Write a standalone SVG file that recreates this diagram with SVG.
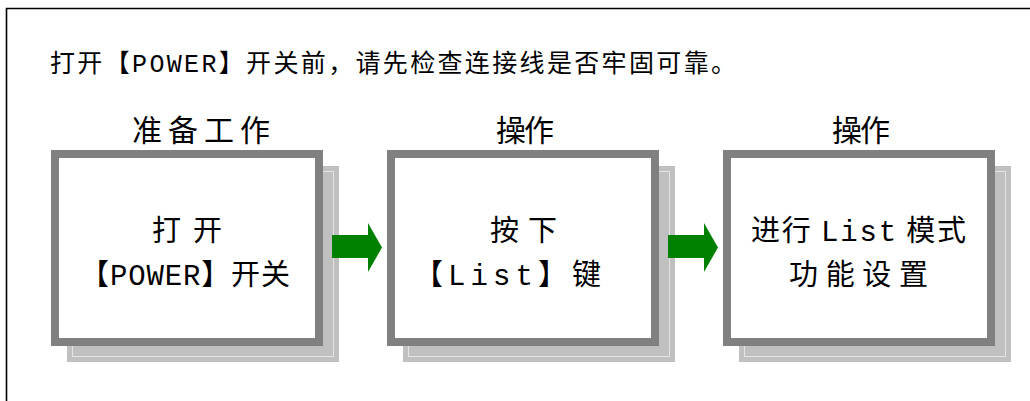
<svg xmlns="http://www.w3.org/2000/svg" width="1030" height="401" viewBox="0 0 1030 401">
<defs>
<style>
.t{font-family:"Noto Sans CJK SC","Noto Sans CJK JP",sans-serif;fill:#000}
.m{font-family:"Liberation Mono","Noto Sans CJK SC",monospace}
.shadow{fill:#c0c0c0}
.shline{fill:none;stroke:#e4e4e4;stroke-width:1}
.box{fill:#fff;stroke:#808080;stroke-width:8}
.arrow{fill:#008000}
</style>
</defs>
<rect width="1030" height="401" fill="#fff"/>
<path d="M1031,8.5 H6.5 V402" fill="none" stroke="#000" stroke-width="1.6"/>
<text class="t" x="50" y="72" font-size="25" textLength="686" lengthAdjust="spacing">打开【<tspan class="m">POWER</tspan>】开关前，请先检查连接线是否牢固可靠。</text>
<g id="label1"><text class="t" x="132" y="141" font-size="30" textLength="138" lengthAdjust="spacing">准备工作</text></g>
<g id="label2"><text class="t" x="496" y="141" font-size="30" textLength="58" lengthAdjust="spacing">操作</text></g>
<g id="label3"><text class="t" x="832" y="141" font-size="30" textLength="58" lengthAdjust="spacing">操作</text></g>
<g id="node1">
<rect class="shadow" x="67" y="166" width="272" height="196"/>
<rect class="shline" x="72.5" y="171.5" width="261" height="185"/>
<rect class="box" x="55" y="154" width="264" height="188"/>
<text class="t" x="152" y="241" font-size="29" textLength="70" lengthAdjust="spacing">打开</text>
<text class="t" x="80" y="285" font-size="29" textLength="210" lengthAdjust="spacing">【<tspan class="m">POWER</tspan>】开关</text>
</g>
<g id="node2">
<rect class="shadow" x="403" y="166" width="272" height="196"/>
<rect class="shline" x="408.5" y="171.5" width="261" height="185"/>
<rect class="box" x="391" y="154" width="264" height="188"/>
<text class="t" x="490" y="241" font-size="29" textLength="67" lengthAdjust="spacing">按下</text>
<text class="t" x="414" y="285" font-size="29" textLength="187" lengthAdjust="spacing">【<tspan class="m">List</tspan>】键</text>
</g>
<g id="node3">
<rect class="shadow" x="739" y="166" width="272" height="196"/>
<rect class="shline" x="744.5" y="171.5" width="261" height="185"/>
<rect class="box" x="727" y="154" width="264" height="188"/>
<text class="t" x="751" y="241" font-size="29" textLength="215" lengthAdjust="spacing">进行 <tspan class="m">List</tspan> 模式</text>
<text class="t" x="789" y="285" font-size="29" textLength="139" lengthAdjust="spacing">功能设置</text>
</g>
<g id="connectors">
<polygon class="arrow" points="332,235 368,235 368,223 382,247.5 368,272 368,258 332,258"/>
<polygon class="arrow" points="668,235 704,235 704,223 718,247.5 704,272 704,258 668,258"/>
</g>
</svg>
